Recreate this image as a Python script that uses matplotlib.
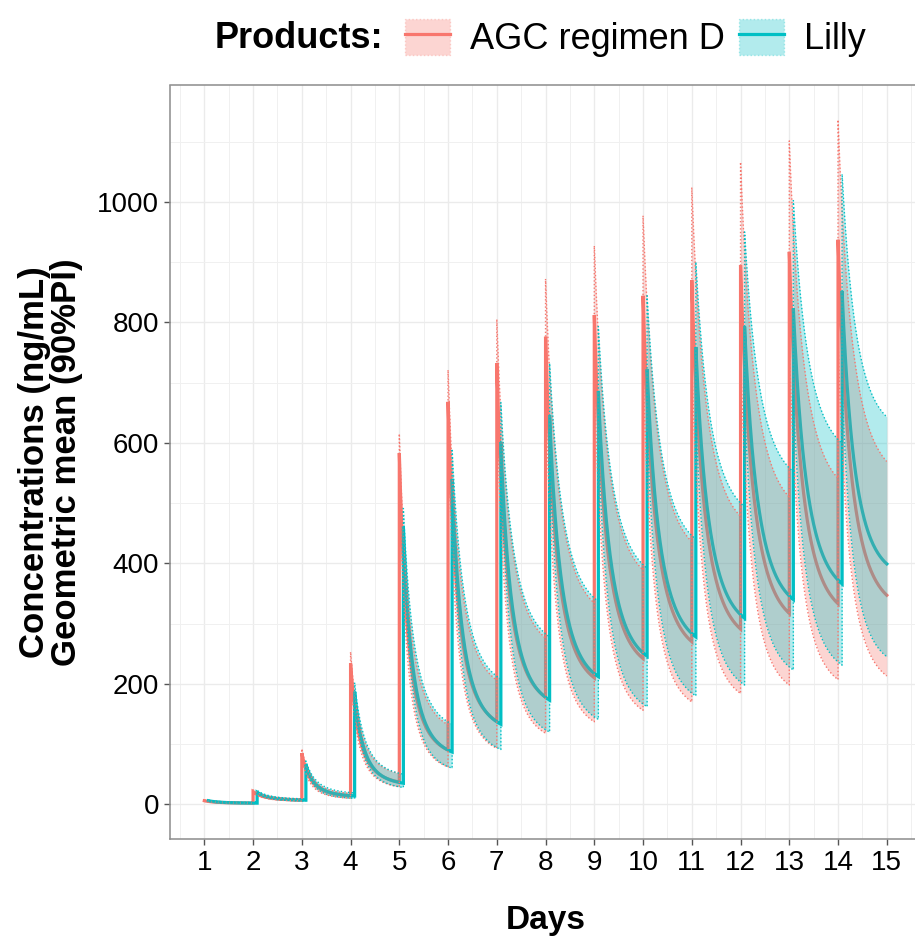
import numpy as np
import matplotlib
matplotlib.use("Agg")
import matplotlib.pyplot as plt
from matplotlib.patches import Patch
from matplotlib.lines import Line2D

plt.rcParams["font.family"] = ["Liberation Sans", "DejaVu Sans"]

# ---- simulated PK summary: one dose per day ----
dose_days = list(range(1, 15))
lilly_offset = 2 / 24  # Lilly dosed 2 h after AGC
end_day = 15

# AGC regimen D: value right after each dose (peak) and just before the next dose (trough)
agc_peak_med = [6, 21, 85, 234, 583, 668, 732, 776, 812, 844, 870, 895, 917, 937]
agc_peak_hi = [7, 24, 92, 253, 615, 721, 805, 872, 927, 977, 1024, 1066, 1101, 1136]
agc_peak_lo = [5, 19, 78, 216, 553, 619, 665, 690, 711, 729, 739, 751, 764, 773]
agc_trough_med = [2, 7, 14, 37, 90, 138, 178, 210, 242, 270, 291, 317, 333, 347]
agc_trough_hi = [3, 9, 18, 51, 132, 206, 276, 334, 389, 436, 478, 510, 541, 569]
agc_trough_lo = [1.5, 5.5, 10, 29, 62, 93, 118, 137, 156, 170, 184, 198, 207, 213]

# Lilly
lilly_peak_med = [6, 20, 66, 187, 461, 540, 601, 646, 686, 722, 759, 793, 823, 852]
lilly_peak_hi = [7, 23, 72, 202, 491, 590, 667, 732, 793, 844, 900, 950, 1002, 1046]
lilly_peak_lo = [5, 18, 61, 173, 433, 494, 541, 570, 593, 618, 640, 662, 676, 694]
lilly_trough_med = [2, 7, 14, 35, 87, 133, 173, 212, 246, 278, 309, 340, 366, 399]
lilly_trough_hi = [3, 9, 19, 50, 133, 208, 278, 337, 392, 440, 494, 552, 599, 643]
lilly_trough_lo = [1.5, 5.5, 10, 28, 60, 91, 120, 141, 162, 180, 198, 223, 231, 245]

products = ["AGC regimen D", "Lilly"]
colors = {"AGC regimen D": "#F8766D", "Lilly": "#00BFC4"}


def profile(doses, peaks, troughs, last, k=2.5, n=80):
    """First-order decline from each post-dose level to the pre-dose level."""
    t_all, c_all = [], []
    for i, t0 in enumerate(doses):
        t1 = doses[i + 1] if i + 1 < len(doses) else last
        s = np.linspace(0, 1, n)
        frac = (1 - np.exp(-k * s)) / (1 - np.exp(-k))
        c = np.exp(np.log(peaks[i]) + frac * (np.log(troughs[i]) - np.log(peaks[i])))
        t_all.append(t0 + s * (t1 - t0))
        c_all.append(c)
    return np.concatenate(t_all), np.concatenate(c_all)


series = {
    "AGC regimen D": ([d for d in dose_days],
                      (agc_peak_med, agc_trough_med),
                      (agc_peak_lo, agc_trough_lo),
                      (agc_peak_hi, agc_trough_hi)),
    "Lilly": ([d + lilly_offset for d in dose_days],
              (lilly_peak_med, lilly_trough_med),
              (lilly_peak_lo, lilly_trough_lo),
              (lilly_peak_hi, lilly_trough_hi)),
}

W, H = 915, 938
fig = plt.figure(figsize=(W / 100, H / 100), dpi=100)
ax = fig.add_axes([170.2 / W, 1 - 838.6 / H, (920.9 - 170.2) / W, (838.6 - 85.5) / H])

curves = {}
for p in products:
    doses, med, lo, hi = series[p]
    t, cm = profile(doses, *med, end_day)
    _, cl = profile(doses, *lo, end_day)
    _, ch = profile(doses, *hi, end_day)
    curves[p] = (t, cm, cl, ch)

# median lines underneath the translucent prediction intervals
for p in products:
    t, cm, cl, ch = curves[p]
    ax.plot(t, cm, color=colors[p], lw=2.3, zorder=2, solid_joinstyle="miter")
for p in products:
    t, cm, cl, ch = curves[p]
    ax.fill_between(t, cl, ch, color=colors[p], alpha=0.3, lw=0, zorder=3)
    ax.plot(t, cl, color=colors[p], lw=1.0, ls=(0, (1, 1.6)), zorder=4)
    ax.plot(t, ch, color=colors[p], lw=1.0, ls=(0, (1, 1.6)), zorder=4)

ax.set_xlim(0.3, 15.7)
ax.set_ylim(-56.9, 1193)
ax.set_xticks(range(1, 16))
ax.set_xticks(np.arange(0.5, 16, 1), minor=True)
ax.set_yticks(range(0, 1001, 200))
ax.set_yticks(range(100, 1200, 200), minor=True)
ax.grid(which="major", color="#EBEBEB", lw=1.0, zorder=0)
ax.grid(which="minor", color="#F0F0F0", lw=0.7, zorder=0)
ax.set_axisbelow(True)
for sp in ax.spines.values():
    sp.set_color("#8c8c8c")
    sp.set_linewidth(1.1)
ax.tick_params(which="major", length=4, width=1, color="#555555",
               labelsize=20, labelcolor="black", pad=4)
ax.tick_params(which="minor", length=0)

ax.set_xlabel("Days", fontsize=24, fontweight="bold", labelpad=21)
ax.set_ylabel("Concentrations (ng/mL)\nGeometric mean (90%PI)", fontsize=25,
              fontweight="bold", labelpad=10, linespacing=0.95)

# legend across the top
fig.text(215 / W, 1 - 38 / H, "Products:", fontsize=26, fontweight="bold",
         ha="left", va="center")
handles = [(Patch(facecolor=colors[p], alpha=0.3, edgecolor=colors[p],
                  linestyle=":", linewidth=1.0),
            Line2D([], [], color=colors[p], lw=2.3)) for p in products]
fig.legend(handles, products, loc="center left", bbox_to_anchor=(405 / W, 1 - 38 / H),
           ncol=2, frameon=False, fontsize=26, handlelength=1.25, handleheight=1.16,
           handletextpad=0.55, columnspacing=0.4, borderpad=0, borderaxespad=0)

fig.savefig("out.png", dpi=100)
